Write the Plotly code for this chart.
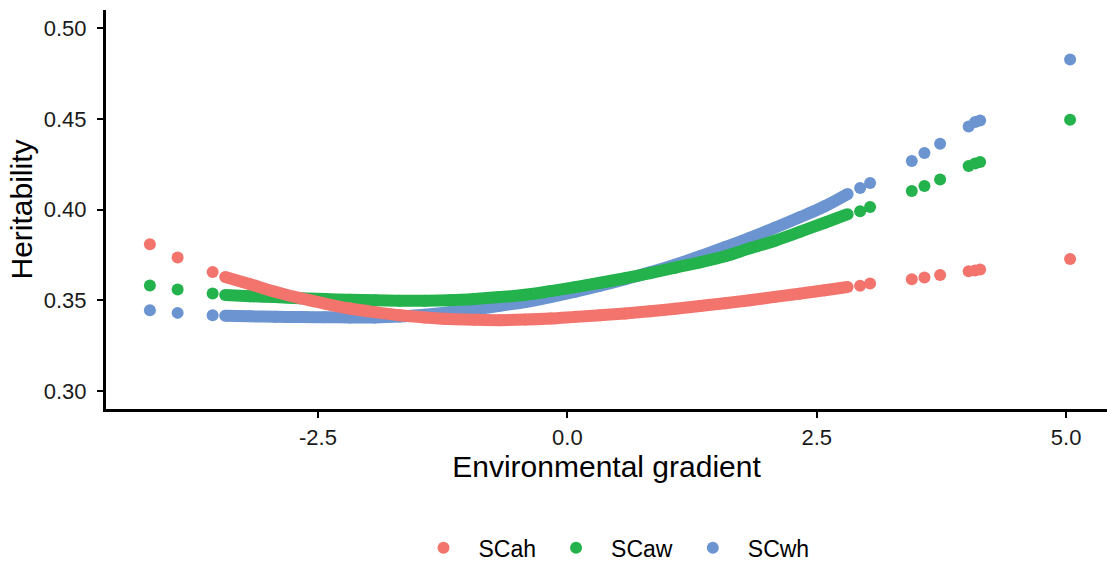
import plotly.graph_objects as go

# Environmental gradient values: isolated observations at both ends,
# and the densely sampled run in the middle of the gradient.
env_tails = [-4.185, -3.907, -3.556,
             2.935, 3.035, 3.453, 3.580, 3.737, 4.023, 4.088, 4.138, 5.040]
env_run = [-3.43, -3.18, -2.93, -2.68, -2.43, -2.18, -1.93, -1.68, -1.43,
           -1.18, -0.93, -0.68, -0.42, -0.17, 0.08, 0.33, 0.58, 0.83,
           1.08, 1.33, 1.58, 1.83, 2.08, 2.33, 2.58, 2.81]

# Heritability estimates per trait
scah_tails = [0.3808, 0.3735, 0.3656,
              0.3579, 0.3592, 0.3616, 0.3625, 0.3639, 0.3660, 0.3664, 0.3669, 0.3727]
scah_run = [0.3628, 0.3588, 0.3547, 0.3511, 0.3481, 0.3454, 0.3434, 0.3417, 0.3405,
            0.3396, 0.3392, 0.3390, 0.3393, 0.3399, 0.3408, 0.3417, 0.3427, 0.3439,
            0.3453, 0.3468, 0.3483, 0.3500, 0.3518, 0.3536, 0.3555, 0.3573]

scaw_tails = [0.3581, 0.3559, 0.3537,
              0.3990, 0.4014, 0.4102, 0.4129, 0.4166, 0.4240, 0.4253, 0.4262, 0.4495]
scaw_run = [0.3528, 0.3522, 0.3517, 0.3511, 0.3506, 0.3502, 0.3499, 0.3497, 0.3497,
            0.3500, 0.3507, 0.3517, 0.3530, 0.3550, 0.3572, 0.3596, 0.3621, 0.3649,
            0.3679, 0.3709, 0.3742, 0.3786, 0.3828, 0.3877, 0.3927, 0.3974]

scwh_tails = [0.3445, 0.3430, 0.3417,
              0.4118, 0.4146, 0.4267, 0.4311, 0.4363, 0.4458, 0.4482, 0.4491, 0.4827]
scwh_run = [0.3414, 0.3411, 0.3409, 0.3407, 0.3406, 0.3405, 0.3405, 0.3410, 0.3420,
            0.3433, 0.3449, 0.3469, 0.3490, 0.3517, 0.3547, 0.3580, 0.3616, 0.3654,
            0.3696, 0.3742, 0.3792, 0.3844, 0.3899, 0.3957, 0.4018, 0.4086]

x_ticks = [-2.5, 0.0, 2.5, 5.0]
x_tick_labels = ["-2.5", "0.0", "2.5", "5.0"]
y_ticks = [0.30, 0.35, 0.40, 0.45, 0.50]
y_tick_labels = ["0.30", "0.35", "0.40", "0.45", "0.50"]

FONT = "Liberation Sans, Arial, sans-serif"
DOT = 12

# drawn bottom to top: SCwh, SCaw, SCah
series = [
    ("SCwh", "#6b94d0", scwh_tails, scwh_run, 3),
    ("SCaw", "#23b24b", scaw_tails, scaw_run, 2),
    ("SCah", "#f2746d", scah_tails, scah_run, 1),
]

fig = go.Figure()
for name, color, tails, run, rank in series:
    fig.add_trace(go.Scatter(
        x=env_run, y=run, mode="lines+markers", name=name,
        legendgroup=name, showlegend=False,
        line=dict(color=color, width=DOT, shape="spline"),
        marker=dict(color=color, size=DOT),
        hoverinfo="skip",
    ))
    fig.add_trace(go.Scatter(
        x=env_tails, y=tails, mode="markers", name=name,
        legendgroup=name, legendrank=rank,
        marker=dict(color=color, size=DOT),
    ))

axis_common = dict(
    showgrid=False, zeroline=False, showline=True, linecolor="black",
    linewidth=3, ticks="outside", ticklen=6, tickwidth=2, tickcolor="black",
    tickfont=dict(family=FONT, size=22, color="#1a1a1a"),
)

fig.update_layout(
    width=1107, height=563,
    margin=dict(l=106, r=0, t=10, b=154),
    paper_bgcolor="white", plot_bgcolor="white",
    font=dict(family=FONT, color="black"),
    xaxis=dict(
        range=[-4.625, 5.41], tickvals=x_ticks, ticktext=x_tick_labels,
        ticklabelstandoff=1,
        title=dict(text="Environmental gradient",
                   font=dict(family=FONT, size=30, color="black"), standoff=0),
        **axis_common,
    ),
    yaxis=dict(
        range=[0.29, 0.51], tickvals=y_ticks, ticktext=y_tick_labels,
        ticklabelstandoff=6,
        title=dict(text="Heritability",
                   font=dict(family=FONT, size=30, color="black"), standoff=3),
        **axis_common,
    ),
    legend=dict(
        orientation="h", x=0.505, xanchor="center",
        yref="container", y=0.027, yanchor="middle",
        font=dict(family=FONT, size=23, color="black"),
        itemwidth=60, bgcolor="rgba(0,0,0,0)",
    ),
    showlegend=True,
)

fig.write_html("out.html")
